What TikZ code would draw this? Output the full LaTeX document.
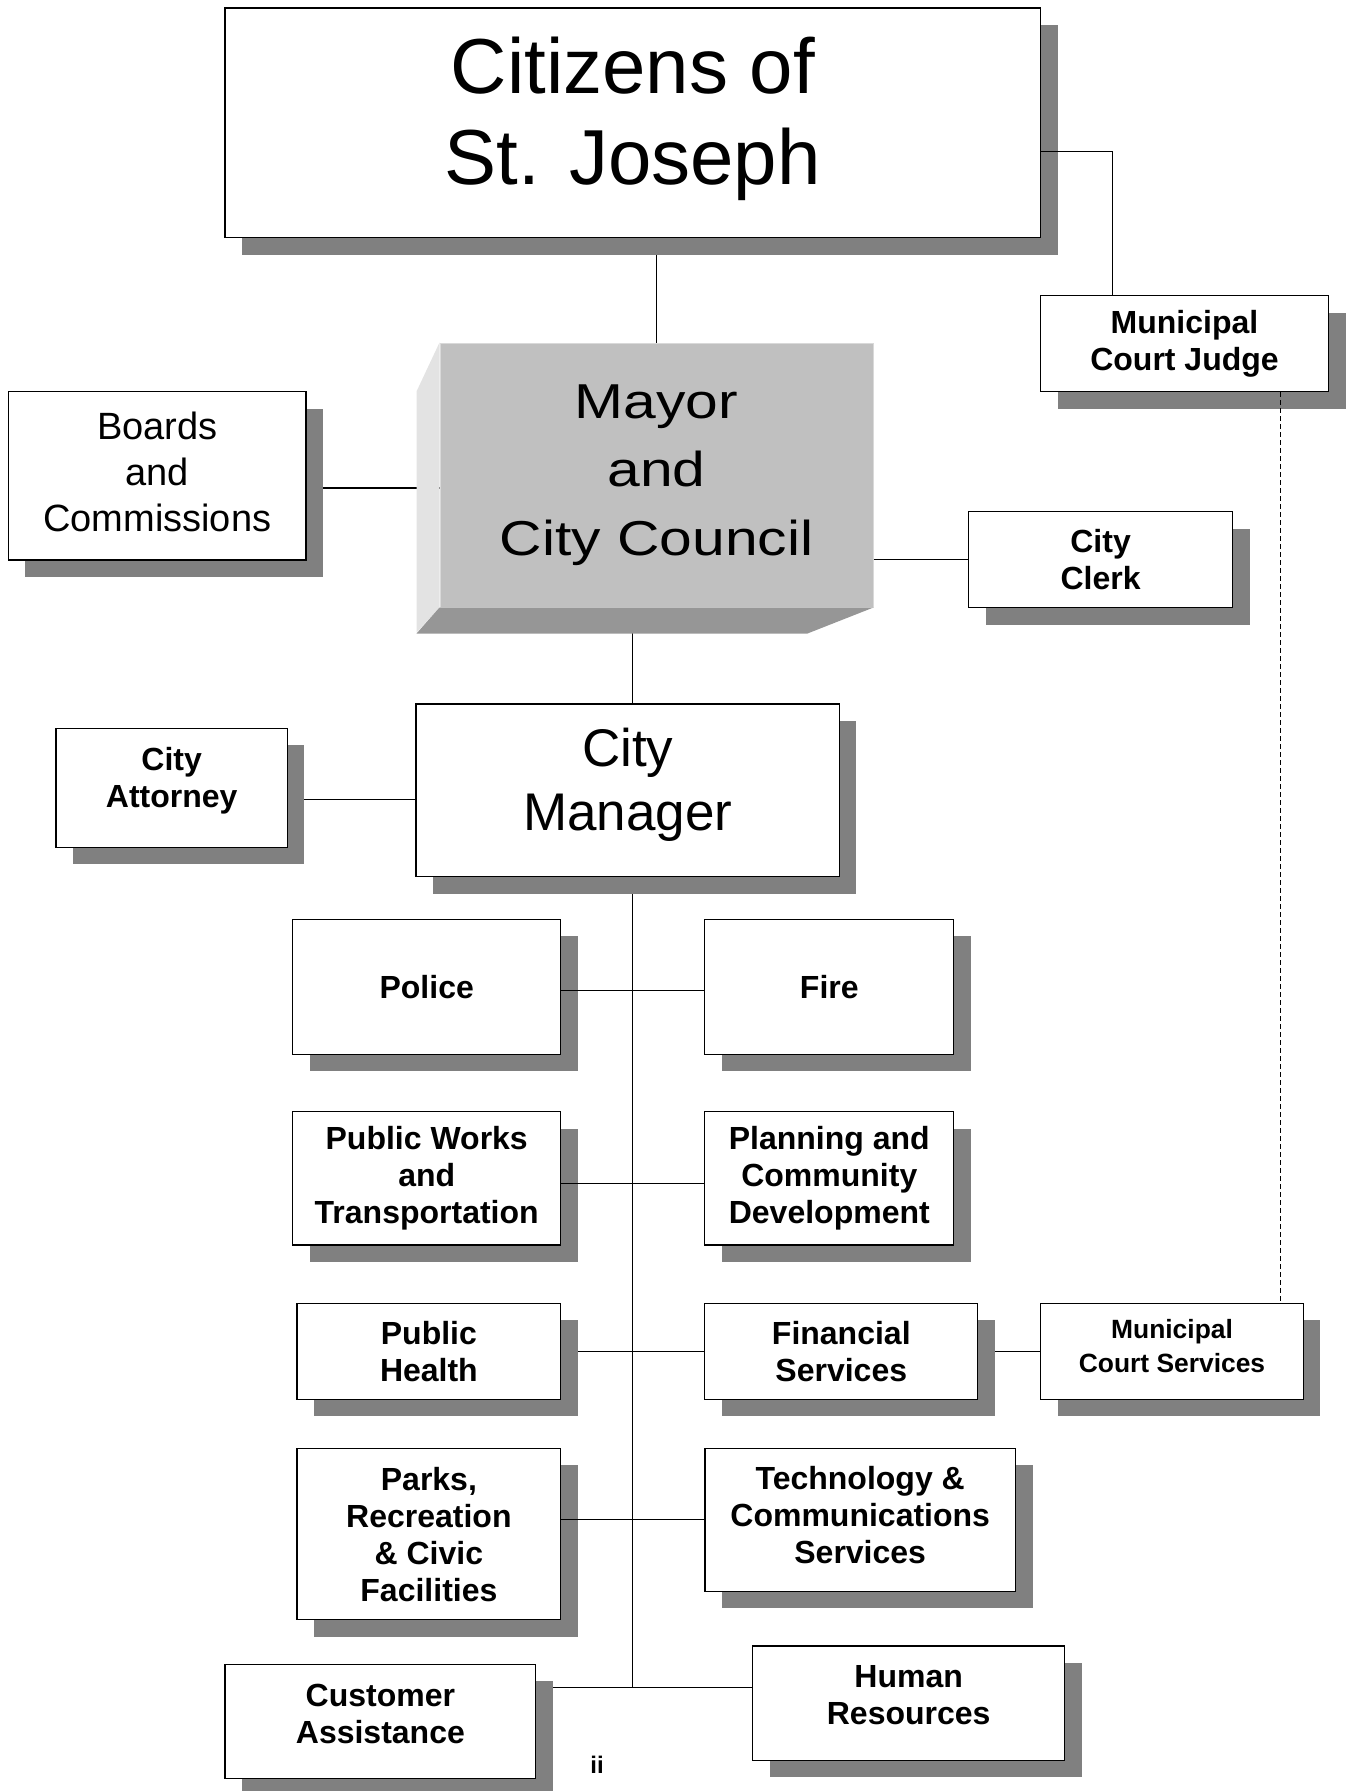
\documentclass[tikz,border=0pt]{standalone}
\usepackage{fontspec}
\setmainfont{Liberation Sans}
\newfontfamily\widesans[FakeStretch=1.2]{Liberation Sans}
\usetikzlibrary{positioning,shadows}
\definecolor{shade}{HTML}{808080}
\definecolor{councilfront}{HTML}{C0C0C0}
\definecolor{councilside}{HTML}{E3E3E3}
\definecolor{councilfoot}{HTML}{969696}
\pgfdeclarelayer{back}
\pgfsetlayers{back,main}
\tikzset{%
   unit/.style={draw=black, fill=white, line width=1.3pt, align=center, inner sep=0pt,
      drop shadow={shadow xshift=17pt, shadow yshift=-17pt, fill=shade, opacity=1}},
   dept/.style={unit, font=\fontsize{32}{37}\selectfont\bfseries},
   lift/.style={text depth=#1},
   link/.style={draw=black, line width=1.3pt},
}

\begin{document}
\begin{tikzpicture}[x=1pt, y=-1pt]
   \useasboundingbox (0,0) rectangle (1349,1791);
   % top of the chart
   \node[unit, lift=23.3pt, minimum width=815.6pt, minimum height=229.6pt, font=\fontsize{78}{91}\selectfont] (citizens) at (632.8,122.8) {Citizens of\\St. Joseph};
   \node[dept, minimum width=288pt, minimum height=96pt] (judge) at (1184.5,343.8) {Municipal\\Court Judge};
   \node[unit, lift=9.2pt, minimum width=297.7pt, minimum height=168.3pt, font=\fontsize{38}{46}\selectfont] (boards) at (157.2,475.9) {Boards\\and\\Commissions};
   \node[dept, minimum width=263.8pt, minimum height=96pt] (clerk) at (1100.6,559.7) {City\\Clerk};
   % council block with its bevel
   \node[fill=councilfront, draw=councilfront!60!white, line width=1pt, align=center, inner sep=0pt,
      minimum width=433pt, minimum height=264pt, font=\widesans\fontsize{49}{68.5}\selectfont] (council) at (656.5,475) {Mayor\\and\\City Council};
   \fill[councilside] (council.north west) -- ++(-23,49) -- ++(0,241) -- (council.south west) -- cycle;
   \fill[councilfoot] (council.south west) -- ++(-23,26) -- ++(391,0) -- (council.south east) -- cycle;
   % manager and attorney
   \node[unit, lift=22.5pt, minimum width=423.3pt, minimum height=172.7pt, font=\fontsize{53}{64}\selectfont] (manager) at (627.7,790.3) {City\\Manager};
   \node[dept, lift=21.5pt, minimum width=231.3pt, minimum height=119pt] (attorney) at (171.7,787.8) {City\\Attorney};
   % departments
   \node[dept, minimum width=268pt, minimum height=135pt] (police) at (426.7,986.8) {Police};
   \node[dept, minimum width=249pt, minimum height=135pt] (fire) at (829.3,986.8) {Fire};
   \node[dept, minimum width=268pt, minimum height=133.6pt] (works) at (426.7,1178.3) {Public Works\\and\\Transportation};
   \node[dept, minimum width=249pt, minimum height=133.6pt] (planning) at (829.3,1178.3) {Planning and\\Community\\Development};
   \node[dept, minimum width=263.7pt, minimum height=96pt] (health) at (428.9,1351.4) {Public\\Health};
   \node[dept, minimum width=273pt, minimum height=96pt] (finance) at (841.3,1351.4) {Financial\\Services};
   \node[dept, lift=10.3pt, minimum width=262.8pt, minimum height=96pt, font=\fontsize{26.4}{34}\selectfont\bfseries] (courtsvc) at (1172,1351.4) {Municipal\\Court Services};
   \node[dept, minimum width=263.7pt, minimum height=171.4pt] (parks) at (428.9,1534.1) {Parks,\\Recreation\\\& Civic\\Facilities};
   \node[dept, lift=9.2pt, minimum width=310.7pt, minimum height=142.8pt] (tech) at (860.2,1519.8) {Technology \&\\Communications\\Services};
   \node[dept, lift=16pt, minimum width=310.7pt, minimum height=114.2pt] (customer) at (380.4,1721.4) {Customer\\Assistance};
   \node[dept, lift=16pt, minimum width=311.8pt, minimum height=114.3pt] (hr) at (908.7,1703.2) {Human\\Resources};
   \node[font=\fontsize{24}{24}\selectfont\bfseries, inner sep=0pt] (folio) at (597,1765) {ii};
   % joints
   \coordinate (citjoin) at ([yshift=-29pt]citizens.east);
   \coordinate (judgejoin) at ([xshift=-72pt]judge.north);
   \coordinate (courtline) at ([xshift=96pt]judge.south);
   \coordinate (boardsjoin) at ([yshift=-12pt]boards.east);
   \coordinate (attyjoin) at ([yshift=-11.5pt]attorney.east);
   \coordinate (stem) at ([xshift=5pt]manager.north);
   \coordinate (hrjoin) at ([yshift=16pt]hr.west);
   % connectors behind the shadows
   \begin{pgfonlayer}{back}
      \draw[link] (council.north) -- (council.north |- citizens.south);
      \draw[link] (boardsjoin) -- (boardsjoin -| council.west);
      \draw[link] (attyjoin) -- (attyjoin -| manager.west);
      \draw[link] (stem |- council.south) -- (stem);
      \draw[link] (stem) -- (stem |- hrjoin);
      \draw[link] (health.east) -- (finance.west);
      \draw[link] (finance.east) -- (courtsvc.west);
      \draw[link] (customer.east |- hrjoin) -- (hrjoin);
   \end{pgfonlayer}
   % connectors in front
   \draw[link] (citjoin) -| (judgejoin);
   \draw[link] (council.east |- clerk.west) -- (clerk.west);
   \draw[link, line width=1pt, dash pattern=on 5pt off 3pt] (courtline) -- (courtline |- courtsvc.north);
   \draw[link] ([yshift=-4pt]police.east) -- ([yshift=-4pt]fire.west);
   \draw[link] ([yshift=-5pt]works.east) -- ([yshift=-5pt]planning.west);
   \draw[link] (parks.east |- tech.west) -- (tech.west);
\end{tikzpicture}
\end{document}
